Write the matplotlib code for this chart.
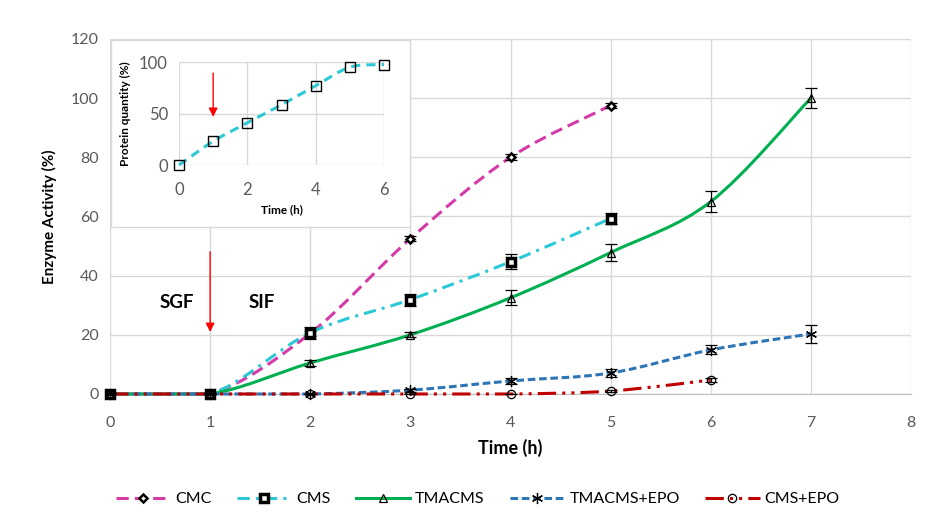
import numpy as np
import matplotlib.pyplot as plt
from matplotlib.path import Path
from matplotlib.patches import PathPatch, Rectangle
from matplotlib.lines import Line2D

plt.rcParams['font.family'] = ['Lato', 'DejaVu Sans']

# main chart data
t_cmc = [0, 1, 2, 3, 4, 5]
cmc = [0, 0, 20.5, 52.5, 80, 97.5]
cmc_err = [0, 0, 0.8, 0.8, 1, 1]

t_cms = [0, 1, 2, 3, 4, 5]
cms = [0, 0, 20.7, 31.9, 44.7, 59.3]
cms_err = [0, 0, 2, 2, 2.5, 2]

t_tma = [0, 1, 2, 3, 4, 5, 6, 7]
tma = [0, 0, 10.5, 20, 32.5, 47.8, 65, 100]
tma_err = [0, 0, 1, 0.8, 2.5, 3, 3.5, 3.5]

t_tmae = [0, 1, 2, 3, 4, 5, 6, 7]
tmae = [0, 0, 0, 1.3, 4.4, 7.1, 14.9, 20.3]
tmae_err = [0, 0, 0, 0.5, 1, 1.5, 1.5, 3]

t_cmse = [0, 1, 2, 3, 4, 5, 6]
cmse = [0, 0, 0, 0, 0, 1, 4.7]
cmse_err = [0, 0, 0, 0, 0, 0.3, 0.8]

# inset data
t_prot = [0, 1, 2, 3, 4, 5, 6]
prot = [0, 23, 41, 58.5, 77, 95, 97.5]

GRID = '#D9D9D9'
TICK = '#595959'


def smooth_path(xs, ys):
    # bezier curve through the points (like excel "smoothed line")
    p = np.column_stack([xs, ys]).astype(float)
    n = len(p)
    verts = [p[0]]
    codes = [Path.MOVETO]
    for i in range(n - 1):
        a = p[i - 1] if i > 0 else p[i]
        b = p[i + 2] if i + 2 < n else p[i + 1]
        if p[i][1] == p[i + 1][1] == 0:
            c1 = p[i] + (p[i + 1] - p[i]) / 3
            c2 = p[i] + 2 * (p[i + 1] - p[i]) / 3
        else:
            c1 = p[i] + (p[i + 1] - a) / 6
            c2 = p[i + 1] - (b - p[i]) / 6
        verts += [c1, c2, p[i + 1]]
        codes += [Path.CURVE4] * 3
    return Path(verts, codes)


fig = plt.figure(figsize=(9.26, 5.27), dpi=100)
ax = fig.add_axes([0.1188, 0.2524, 0.865, 0.6737])

series = [
    ('CMC', t_cmc, cmc, cmc_err, '#D63AA8', (0, (4, 2)), 'D', 4.5, 'white', 1.8),
    ('CMS', t_cms, cms, cms_err, '#2BC8D6', (0, (4, 2, 1, 2)), 's', 6, 'white', 2.5),
    ('TMACMS', t_tma, tma, tma_err, '#00B050', '-', '^', 6, 'none', 0.9),
    ('TMACMS+EPO', t_tmae, tmae, tmae_err, '#2E75B6', (0, (2.5, 1.2)), (6, 2, 0), 8, 'none', 0.9),
    ('CMS+EPO', t_cmse, cmse, cmse_err, '#C00000', (0, (6, 2, 1, 2, 1, 2)), 'o', 6, 'none', 0.9),
]

handles = []
for name, xs, ys, err, col, ls, mk, ms, mfc, mew in series:
    patch = PathPatch(smooth_path(xs, ys), fill=False, edgecolor=col, lw=2.2,
                      linestyle=ls, zorder=3, clip_on=False)
    ax.add_patch(patch)
    ax.errorbar(xs, ys, yerr=err, fmt='none', ecolor='black', elinewidth=0.9,
                capsize=4, capthick=0.9, zorder=4)
    ax.plot(xs, ys, ls='none', marker=mk, ms=ms, mfc=mfc, mec='black', mew=mew,
            zorder=5, clip_on=False)
    handles.append(Line2D([], [], color=col, lw=2.2, ls=ls, marker=mk, ms=ms,
                          mfc=mfc, mec='black', mew=mew))

ax.set_xlim(0, 8)
ax.set_ylim(0, 120)
ax.set_xticks(range(0, 9))
ax.set_yticks(range(0, 121, 20))
ax.grid(True, color=GRID, lw=1)
ax.set_axisbelow(True)
for s in ['top', 'right', 'left']:
    ax.spines[s].set_visible(False)
ax.spines['bottom'].set_color('#BFBFBF')
ax.tick_params(length=0, labelsize=11.5, labelcolor=TICK, pad=8)
ax.tick_params(axis='x', pad=16)
ax.set_xlabel('Time (h)', fontsize=13, fontweight='bold', labelpad=6)
ax.set_ylabel('Enzyme Activity (%)', fontsize=11, fontweight='bold', labelpad=10)

ax.text(0.67, 31, 'SGF', fontsize=13.5, fontweight='bold', ha='center', va='center')
ax.text(1.52, 31, 'SIF', fontsize=13.5, fontweight='bold', ha='center', va='center')
ax.annotate('', xy=(1, 20), xytext=(1, 49),
            arrowprops=dict(arrowstyle='-|>', color='red', lw=1, mutation_scale=13))

fig.legend(handles, [s[0] for s in series], loc='center', ncol=5,
           bbox_to_anchor=(0.516, 0.053), frameon=False, fontsize=11.5,
           handlelength=3.4, columnspacing=1.6, handletextpad=0.3)

# inset panel with white background
fig.patches.append(Rectangle((0.1199, 0.5693), 0.3229, 0.3548, transform=fig.transFigure,
                             facecolor='white', edgecolor='#D9D9D9', lw=1, zorder=2))
ins = fig.add_axes([0.1933, 0.6869, 0.2214, 0.1954])
ins.set_zorder(3)
ins.patch.set_alpha(0)
ins.add_patch(PathPatch(smooth_path(t_prot, prot), fill=False, edgecolor='#2BC8D6',
                        lw=2.2, linestyle=(0, (3, 2)), zorder=3, clip_on=False))
ins.plot(t_prot, prot, ls='none', marker='s', ms=7, mfc='none', mec='black', mew=1,
         zorder=5, clip_on=False)
ins.set_xlim(0, 6)
ins.set_ylim(0, 100)
ins.set_xticks([0, 2, 4, 6])
ins.set_yticks([0, 50, 100])
ins.grid(True, color=GRID, lw=1)
ins.set_axisbelow(True)
for s in ins.spines.values():
    s.set_visible(False)
ins.tick_params(length=0, labelsize=12, labelcolor=TICK, pad=8)
ins.tick_params(axis='x', pad=12)
ins.set_xlabel('Time (h)', fontsize=8.5, fontweight='bold', labelpad=5)
ins.set_ylabel('Protein quantity (%)', fontsize=8.5, fontweight='bold', labelpad=6)
ins.annotate('', xy=(1, 44), xytext=(1, 92),
             arrowprops=dict(arrowstyle='-|>', color='red', lw=1, mutation_scale=13))

fig.savefig('out.png', dpi=100)
